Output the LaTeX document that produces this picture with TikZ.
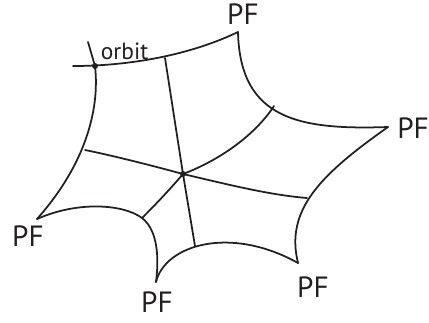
\documentclass[tikz,border=0pt]{standalone}
\usepackage{fontspec}
\setmainfont{PT Sans}
\usetikzlibrary{calc}
\definecolor{ink}{HTML}{231F20}

\begin{document}
\begin{tikzpicture}[x=0.03cm, y=-0.03cm, line width=1.5pt, line cap=round, draw=ink]

\useasboundingbox (0,0) rectangle (429,322);

% ============================================================
% Corners of the cell
% ============================================================
\coordinate (orb) at (95,66);
\coordinate (pfT) at (238,32);
\coordinate (pfR) at (388,127);
\coordinate (pfBR) at (298,263);
\coordinate (pfB) at (156,282);
\coordinate (pfL) at (37,219);
\coordinate (ctr) at (183,174);

% Points where the spokes meet the boundary
\coordinate (mT) at (165,58);
\coordinate (mTR) at (274,106);
\coordinate (mR) at (307,198);
\coordinate (mBR) at (195,246);
\coordinate (mB) at (142,218);
\coordinate (mL) at (85,150);

% Ends of the orbit cross
\coordinate (orbW) at (73,66);
\coordinate (orbN) at (88,42);

% ============================================================
% Boundary
% ============================================================
\draw (orbW) .. controls (130,66) and (190,55) .. (pfT);
\draw (pfT) .. controls (240,120) and (300,130) .. (pfR);
\draw (pfR) .. controls (320,175) and (285,210) .. (pfBR);
\draw (pfBR) .. controls (230,225) and (165,245) .. (pfB);
\draw (pfB) .. controls (160,250) and (155,228) .. (mB)
            .. controls (125,205) and (80,200) .. (pfL);
\draw (pfL) .. controls (85,165) and (100,110) .. (orb);
\draw (orb) -- (orbN);

% ============================================================
% Spokes from the centre
% ============================================================
\draw (ctr) -- (mT);
\draw (ctr) .. controls (220,160) and (255,135) .. (mTR);
\draw (ctr) .. controls (230,185) and (270,195) .. (mR);
\draw (ctr) -- (mBR);
\draw (ctr) .. controls (165,195) and (150,210) .. (mB);
\draw (ctr) .. controls (150,165) and (110,155) .. (mL);

% Dots
\fill[ink] (ctr) circle (3);
\fill[ink] (orb) circle (3);

% Labels
\foreach \name/\xc/\yc in {T/243/14, R/413/128, BR/313/287, B/157/302, L/28/236} {
  \node[text=ink, font=\fontsize{25}{30}\selectfont, inner sep=0pt] (lbl\name) at (\xc,\yc) {PF};
}
\node[text=ink, font=\fontsize{20}{24}\selectfont, inner sep=0pt, anchor=base west] (lblOrbit) at (100,59) {orbit};

\end{tikzpicture}
\end{document}
